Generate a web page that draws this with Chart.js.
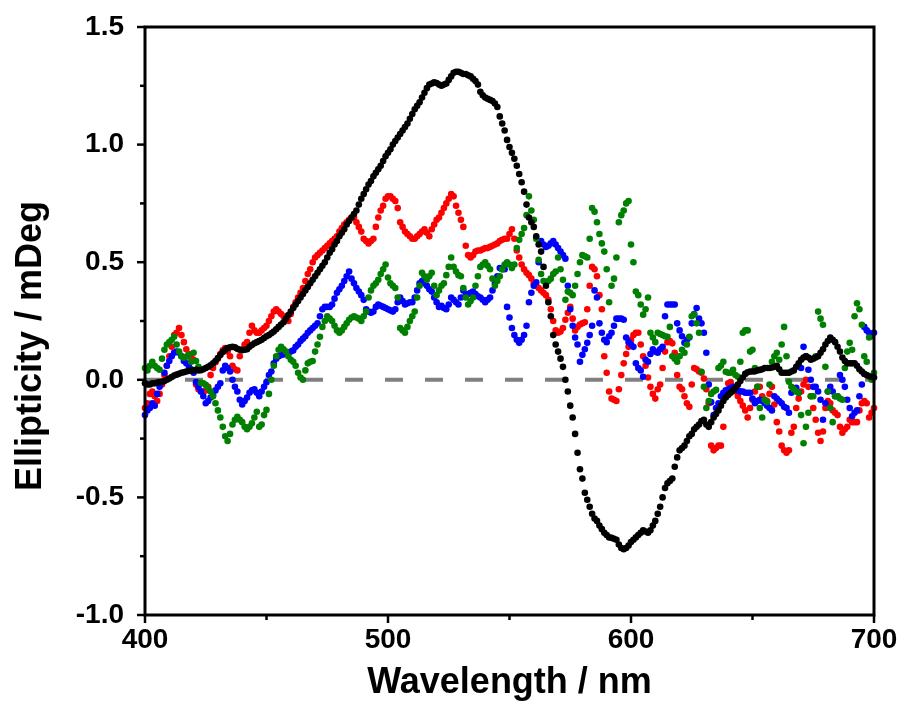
<!DOCTYPE html>
<html>
<head>
<meta charset="utf-8">
<script src="https://cdn.jsdelivr.net/npm/chart.js@4.4.0/dist/chart.umd.min.js"></script>
<style>
  html, body { margin: 0; padding: 0; background: #fff; }
  #wrap { width: 902px; height: 706px; position: relative; }
</style>
</head>
<body>
<div id="wrap"><canvas id="cd"></canvas></div>
<script>
// spectra sampled every 1 nm, 400..700 nm
const startNm = 400;

const black = [
  -0.015,-0.02,-0.02,-0.015,-0.015,-0.012,-0.01,-0.008,-0.005,0.0,
  0.005,0.012,0.018,0.022,0.026,0.03,0.032,0.035,0.038,0.04,
  0.04,0.042,0.04,0.041,0.045,0.05,0.055,0.062,0.07,0.08,
  0.093,0.105,0.118,0.128,0.135,0.138,0.14,0.138,0.132,0.128,
  0.126,0.128,0.13,0.14,0.148,0.155,0.16,0.165,0.17,0.178,
  0.185,0.19,0.198,0.205,0.215,0.225,0.235,0.245,0.26,0.275,
  0.29,0.305,0.32,0.335,0.35,0.365,0.38,0.395,0.41,0.425,
  0.44,0.455,0.47,0.485,0.5,0.52,0.54,0.555,0.575,0.59,
  0.61,0.625,0.64,0.66,0.675,0.69,0.705,0.72,0.745,0.77,
  0.79,0.81,0.83,0.845,0.865,0.88,0.895,0.91,0.93,0.95,
  0.965,0.98,1.0,1.015,1.03,1.045,1.06,1.075,1.09,1.11,
  1.13,1.15,1.165,1.18,1.2,1.22,1.24,1.255,1.26,1.265,
  1.262,1.255,1.25,1.255,1.26,1.275,1.29,1.305,1.31,1.31,
  1.305,1.3,1.3,1.295,1.29,1.28,1.27,1.255,1.225,1.21,
  1.2,1.195,1.19,1.185,1.175,1.16,1.12,1.09,1.06,1.02,
  0.99,0.965,0.94,0.91,0.875,0.84,0.8,0.745,0.69,0.67,
  0.65,0.61,0.575,0.545,0.48,0.4,0.33,0.27,0.19,0.15,
  0.12,0.09,0.055,0.0,-0.05,-0.11,-0.16,-0.23,-0.31,-0.38,
  -0.42,-0.48,-0.51,-0.54,-0.57,-0.59,-0.6,-0.62,-0.635,-0.65,
  -0.66,-0.67,-0.672,-0.676,-0.68,-0.7,-0.715,-0.72,-0.715,-0.705,
  -0.69,-0.68,-0.67,-0.66,-0.65,-0.64,-0.645,-0.65,-0.64,-0.62,
  -0.6,-0.57,-0.54,-0.5,-0.46,-0.44,-0.43,-0.42,-0.37,-0.33,
  -0.3,-0.29,-0.28,-0.26,-0.24,-0.23,-0.21,-0.2,-0.19,-0.175,
  -0.17,-0.19,-0.2,-0.18,-0.16,-0.145,-0.13,-0.11,-0.09,-0.075,
  -0.065,-0.055,-0.045,-0.035,-0.02,-0.005,0.01,0.025,0.032,0.035,
  0.035,0.036,0.04,0.042,0.045,0.05,0.05,0.05,0.052,0.055,
  0.06,0.045,0.03,0.03,0.03,0.03,0.035,0.04,0.055,0.07,
  0.085,0.095,0.1,0.095,0.085,0.09,0.095,0.1,0.115,0.13,
  0.15,0.165,0.18,0.17,0.16,0.14,0.12,0.095,0.08,0.07,
  0.07,0.07,0.07,0.06,0.045,0.035,0.025,0.02,0.015,0.012,
  0.01
];

const red = [
  -0.12,-0.1,-0.06,-0.05,-0.07,-0.09,-0.06,-0.02,0.02,0.06,
  0.1,0.14,0.19,0.2,0.22,0.19,0.16,0.13,0.11,0.095,
  0.085,-0.02,-0.04,-0.05,-0.05,-0.045,-0.03,0.02,0.05,0.075,
  0.09,0.11,0.125,0.135,0.12,0.1,0.06,0.045,0.04,0.1,
  0.13,0.15,0.16,0.2,0.23,0.21,0.2,0.2,0.21,0.22,
  0.23,0.25,0.27,0.29,0.3,0.29,0.28,0.27,0.26,0.25,
  0.28,0.31,0.33,0.35,0.37,0.39,0.42,0.45,0.47,0.5,
  0.52,0.53,0.54,0.55,0.56,0.57,0.58,0.59,0.6,0.61,
  0.63,0.645,0.66,0.67,0.68,0.69,0.69,0.67,0.65,0.63,
  0.6,0.59,0.58,0.59,0.6,0.65,0.69,0.72,0.74,0.77,
  0.78,0.78,0.77,0.76,0.73,0.67,0.65,0.63,0.62,0.61,
  0.6,0.6,0.61,0.62,0.63,0.64,0.625,0.61,0.64,0.66,
  0.68,0.69,0.71,0.73,0.75,0.77,0.79,0.78,0.74,0.71,
  0.68,0.65,0.57,0.53,0.52,0.53,0.545,0.55,0.55,0.555,
  0.56,0.56,0.565,0.57,0.575,0.58,0.59,0.595,0.6,0.6,
  0.62,0.64,0.6,0.55,0.52,0.49,0.47,0.455,0.445,0.43,
  0.41,0.4,0.39,0.38,0.37,0.36,0.34,0.3,0.25,0.21,
  0.2,0.205,0.22,0.255,0.285,0.31,0.26,0.21,0.225,0.235,
  0.24,0.245,0.3,0.4,0.48,0.47,0.44,0.36,0.3,0.1,
  0.03,-0.05,-0.08,-0.085,-0.09,-0.04,0.02,0.07,0.11,0.14,
  0.17,0.19,0.2,0.2,0.15,0.1,0.06,0.01,-0.03,-0.06,
  -0.08,-0.04,-0.02,0.05,0.12,0.16,0.165,0.155,0.115,0.02,
  -0.03,-0.04,-0.07,-0.1,-0.115,-0.02,0.05,0.045,0.035,0.03,
  0.005,-0.04,-0.1,-0.28,-0.3,-0.29,-0.28,-0.28,-0.2,-0.06,
  -0.015,-0.01,-0.03,-0.05,-0.07,-0.09,-0.11,-0.13,-0.16,-0.12,
  -0.085,-0.05,-0.03,-0.03,-0.07,-0.085,-0.09,-0.06,-0.03,-0.105,
  -0.18,-0.22,-0.28,-0.3,-0.31,-0.3,-0.225,-0.2,-0.12,-0.08,
  -0.05,-0.02,0.0,-0.03,-0.07,-0.12,-0.17,-0.225,-0.26,-0.22,
  -0.12,-0.09,-0.1,-0.13,-0.14,-0.15,-0.2,-0.225,-0.21,-0.2,
  -0.17,-0.18,-0.18,-0.18,-0.13,-0.1,-0.09,-0.1,-0.16,-0.14,
  -0.12
];

const blue = [
  -0.15,-0.13,-0.12,-0.1,-0.11,-0.06,-0.03,-0.01,0.03,0.06,
  0.08,0.1,0.115,0.12,0.115,0.1,0.08,0.07,0.06,0.045,
  0.03,-0.01,-0.03,-0.05,-0.07,-0.1,-0.09,-0.075,-0.065,-0.045,
  -0.03,-0.015,0.04,0.06,0.05,0.035,0.0,-0.03,-0.05,-0.085,
  -0.105,-0.09,-0.075,-0.055,-0.045,-0.04,-0.055,-0.07,-0.05,-0.03,
  -0.01,0.02,0.035,0.07,0.09,0.1,0.105,0.108,0.112,0.115,
  0.12,0.125,0.14,0.15,0.165,0.175,0.185,0.2,0.21,0.22,
  0.23,0.24,0.27,0.3,0.31,0.31,0.31,0.32,0.345,0.37,
  0.385,0.4,0.42,0.44,0.46,0.43,0.41,0.39,0.375,0.36,
  0.34,0.3,0.29,0.285,0.29,0.31,0.32,0.315,0.31,0.305,
  0.3,0.295,0.29,0.3,0.33,0.35,0.335,0.32,0.325,0.33,
  0.33,0.35,0.38,0.41,0.42,0.41,0.4,0.385,0.375,0.35,
  0.33,0.31,0.315,0.305,0.3,0.32,0.35,0.34,0.33,0.32,
  0.35,0.38,0.36,0.365,0.37,0.375,0.365,0.355,0.35,0.34,
  0.33,0.34,0.35,0.38,0.41,0.44,0.475,0.47,0.47,0.31,
  0.265,0.22,0.19,0.17,0.157,0.17,0.19,0.23,0.33,0.37,
  0.4,0.415,0.5,0.59,0.575,0.565,0.57,0.58,0.59,0.575,
  0.56,0.545,0.53,0.515,0.4,0.3,0.23,0.18,0.15,0.077,
  0.106,0.13,0.157,0.19,0.23,0.38,0.35,0.24,0.2,0.17,
  0.16,0.185,0.2,0.23,0.26,0.26,0.26,0.255,0.18,0.16,
  0.15,0.14,0.07,0.05,0.04,0.013,0.085,0.077,0.11,0.13,
  0.12,0.115,0.13,0.14,0.27,0.32,0.32,0.32,0.32,0.24,
  0.21,0.185,0.157,0.17,0.18,0.24,0.28,0.305,0.26,0.24,
  0.2,0.115,-0.02,-0.095,-0.15,-0.12,-0.1,-0.07,-0.055,-0.045,
  -0.04,-0.035,-0.03,-0.04,-0.045,-0.05,-0.05,-0.055,-0.055,-0.055,
  -0.08,-0.1,-0.09,-0.085,-0.09,-0.1,-0.11,-0.12,-0.13,-0.07,
  -0.08,-0.09,-0.1,-0.115,-0.12,-0.14,-0.055,-0.04,-0.034,-0.055,
  0.05,0.14,0.1,0.043,0.0,-0.03,-0.03,-0.05,-0.085,-0.17,
  -0.1,-0.05,-0.03,-0.05,-0.07,-0.07,0.02,0.0,-0.03,-0.085,
  -0.12,-0.155,-0.14,-0.13,-0.07,-0.02,0.225,0.21,0.2,0.185,
  0.2
];

const green = [
  0.05,0.04,0.06,0.077,0.06,0.05,0.043,0.09,0.128,0.15,
  0.16,0.17,0.183,0.15,0.12,0.1,0.094,0.098,0.106,0.077,
  0.115,0.08,0.055,-0.013,-0.015,-0.021,-0.035,-0.05,-0.07,-0.1,
  -0.13,-0.16,-0.2,-0.24,-0.26,-0.23,-0.19,-0.17,-0.157,-0.17,
  -0.18,-0.2,-0.21,-0.2,-0.185,-0.16,-0.136,-0.2,-0.19,-0.15,
  -0.128,-0.06,0.0,0.06,0.1,0.128,0.14,0.13,0.12,0.1,
  0.085,0.077,0.06,0.03,0.01,0.0,0.04,0.07,0.077,0.08,
  0.12,0.15,0.183,0.225,0.25,0.27,0.26,0.25,0.23,0.21,
  0.2,0.21,0.225,0.24,0.255,0.265,0.27,0.265,0.26,0.25,
  0.27,0.29,0.35,0.38,0.4,0.41,0.425,0.45,0.47,0.49,
  0.435,0.41,0.4,0.39,0.35,0.22,0.21,0.2,0.225,0.25,
  0.27,0.29,0.35,0.4,0.455,0.44,0.425,0.44,0.455,0.4,
  0.36,0.38,0.4,0.41,0.445,0.48,0.52,0.48,0.46,0.445,
  0.44,0.39,0.35,0.32,0.335,0.35,0.4,0.44,0.48,0.49,
  0.5,0.485,0.47,0.43,0.4,0.42,0.44,0.47,0.49,0.5,
  0.49,0.475,0.49,0.56,0.595,0.62,0.645,0.7,0.78,0.72,
  0.68,0.6,0.51,0.45,0.42,0.41,0.42,0.43,0.45,0.46,
  0.52,0.47,0.425,0.34,0.375,0.37,0.36,0.4,0.45,0.5,
  0.53,0.525,0.52,0.6,0.73,0.715,0.67,0.62,0.58,0.545,
  0.47,0.33,0.4,0.43,0.52,0.67,0.7,0.72,0.75,0.76,
  0.575,0.5,0.375,0.36,0.32,0.277,0.3,0.35,0.2,0.18,
  0.16,0.2,0.195,0.19,0.185,0.183,0.225,0.1,0.09,0.077,
  0.1,0.128,0.115,0.15,0.183,0.27,0.277,0.24,0.2,0.034,
  -0.03,-0.12,-0.09,-0.06,-0.05,-0.043,0.05,0.06,0.077,0.034,
  0.03,0.03,0.043,0.02,0.013,0.077,0.2,0.21,0.21,0.12,
  0.128,0.05,-0.03,-0.12,-0.16,-0.085,-0.094,-0.02,0.077,0.1,
  0.115,0.085,0.15,0.225,0.1,-0.008,-0.03,-0.04,-0.05,-0.055,
  -0.15,-0.27,-0.2,-0.14,-0.07,-0.07,0.1,0.29,0.26,0.234,
  0.055,-0.05,-0.12,-0.18,-0.07,-0.07,-0.08,-0.085,0.05,0.12,
  0.157,0.128,0.27,0.325,0.3,0.234,0.1,0.077,0.18,0.0,
  0.03
];

const xRange = [400, 700];
const yRange = [-1.0, 1.5];
const baseline = [{x: 400, y: 0}, {x: 700, y: 0}];
const yTitle = 'Ellipticity / mDeg';

const toPoints = vals => vals.map((v, i) => ({x: startNm + i, y: v}));
const isHalf = v => Math.abs(v * 2 - Math.round(v * 2)) < 1e-6;

// frame, outward major/minor ticks and the y title
const framePlugin = {
  id: 'frame',
  afterDraw(chart) {
    const {ctx, chartArea: a, scales: {x, y}} = chart;
    ctx.save();
    ctx.strokeStyle = '#000';
    ctx.lineWidth = 3;
    ctx.strokeRect(a.left, a.top, a.right - a.left, a.bottom - a.top);
    ctx.lineWidth = 2.5;
    x.ticks.forEach(t => {
      const px = x.getPixelForValue(t.value);
      const len = t.value % 100 === 0 ? 8 : 5;
      ctx.beginPath();
      ctx.moveTo(px, a.bottom);
      ctx.lineTo(px, a.bottom + len);
      ctx.stroke();
    });
    y.ticks.forEach(t => {
      const py = y.getPixelForValue(t.value);
      ctx.beginPath();
      ctx.moveTo(a.left, py);
      ctx.lineTo(a.left - (isHalf(t.value) ? 8 : 5), py);
      ctx.stroke();
    });
    // y title sits a bit below the axis middle in the original
    ctx.translate(31, 346);
    ctx.rotate(-Math.PI / 2);
    ctx.fillStyle = '#000';
    ctx.font = 'bold 36px "Liberation Sans", Arial, sans-serif';
    ctx.textAlign = 'center';
    ctx.textBaseline = 'middle';
    ctx.fillText(yTitle, 0, 0);
    ctx.restore();
  }
};

const dots = (data, color) => ({
  type: 'scatter',
  data: toPoints(data),
  backgroundColor: color,
  borderWidth: 0,
  pointRadius: 3.3,
  pointBorderWidth: 0,
  showLine: false,
  clip: false
});

new Chart(document.getElementById('cd'), {
  type: 'scatter',
  data: {
    datasets: [
      dots(black, '#000000'),
      dots(green, '#008000'),
      dots(blue, '#0000ff'),
      dots(red, '#ff0000'),
      {
        type: 'line',
        data: baseline,
        borderColor: '#808080',
        borderWidth: 4,
        borderDash: [18, 22],
        pointRadius: 0,
        fill: false
      }
    ]
  },
  options: {
    responsive: true,
    maintainAspectRatio: false,
    animation: false,
    layout: { padding: { left: 0, right: 28, top: 27, bottom: 0 } },
    plugins: { legend: { display: false }, tooltip: { enabled: false } },
    scales: {
      x: {
        type: 'linear',
        min: xRange[0],
        max: xRange[1],
        grid: { display: false, drawTicks: false },
        border: { display: false },
        afterFit: s => { s.height = 91; s.paddingLeft = 0; s.paddingRight = 0; },
        ticks: {
          stepSize: 50,
          autoSkip: false,
          maxRotation: 0,
          padding: 8,
          color: '#000',
          font: { family: 'Liberation Sans', weight: 'bold', size: 28 },
          callback: v => (v % 100 === 0 ? String(v) : '')
        },
        title: {
          display: true,
          text: 'Wavelength / nm',
          color: '#000',
          padding: { top: 0, bottom: 1 },
          font: { family: 'Liberation Sans', weight: 'bold', size: 36 }
        }
      },
      y: {
        min: yRange[0],
        max: yRange[1],
        grid: { display: false, drawTicks: false },
        border: { display: false },
        afterFit: s => { s.width = 145; s.paddingTop = 0; s.paddingBottom = 0; },
        ticks: {
          stepSize: 0.25,
          autoSkip: false,
          padding: 21,
          color: '#000',
          font: { family: 'Liberation Sans', weight: 'bold', size: 28 },
          callback: v => (isHalf(v) ? v.toFixed(1) : '')
        }
      }
    }
  },
  plugins: [framePlugin]
});
</script>
</body>
</html>
